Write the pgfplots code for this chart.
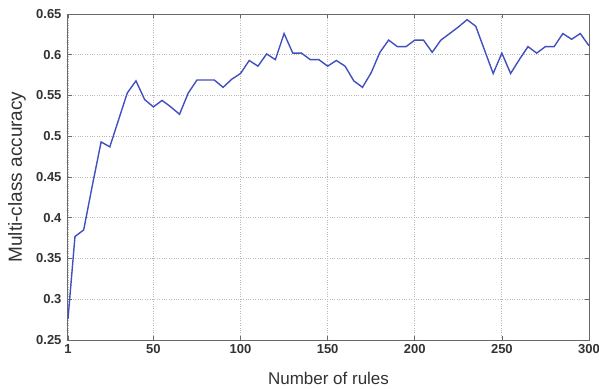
\documentclass[border=0pt]{standalone}
\usepackage{pgfplots}
\pgfplotsset{compat=1.18}
\usepackage{fontspec}
\setmainfont{Liberation Sans}
\definecolor{lineblue}{RGB}{65,80,190}
\definecolor{tickgray}{RGB}{50,50,50}
\definecolor{framegray}{RGB}{105,105,105}
\begin{document}
\begin{tikzpicture}
\useasboundingbox (-68pt,-48pt) rectangle (531pt,340pt);
\begin{axis}[
  at={(0pt,0pt)}, anchor=south west,
  scale only axis,
  width=521pt, height=326pt,
  xmin=1, xmax=300, ymin=0.25, ymax=0.65,
  xtick={1,50,100,150,200,250,300},
  ytick={0.25,0.3,0.35,0.4,0.45,0.5,0.55,0.6,0.65},
  yticklabels={0.25,0.3,0.35,0.4,0.45,0.5,0.55,0.6,0.65},
  xticklabels={1,50,100,150,200,250,300},
  grid=major,
  major grid style={dotted, gray!55, line width=0.8pt},
  axis line style={framegray, line width=1pt},
  tick align=inside,
  tick style={framegray, line width=0.6pt},
  major tick length=4pt,
  ticklabel style={font=\fontsize{13}{15}\selectfont\bfseries, text=tickgray},
  yticklabel style={xshift=-3pt},
  xticklabel style={yshift=-1pt},
  /pgf/number format/assume math mode=true,
  xlabel={Number of rules},
  ylabel={Multi-class accuracy},
  xlabel style={font=\fontsize{17}{20}\selectfont, text=tickgray,
    at={(axis description cs:0.5,0)}, anchor=center, yshift=-38pt},
  ylabel style={font=\fontsize{19}{22}\selectfont, text=tickgray,
    at={(axis description cs:0,0.5)}, anchor=center, yshift=51pt},
]
\addplot[color=lineblue, line width=1.4pt] coordinates {
(1,0.276) (5,0.377) (10,0.385) (15,0.44) (20,0.493) (25,0.487) (30,0.52)
(35,0.553) (40,0.568) (45,0.545) (50,0.536) (55,0.544) (60,0.536) (65,0.527)
(70,0.553) (75,0.569) (80,0.569) (85,0.569) (90,0.560) (95,0.570) (100,0.577)
(105,0.593) (110,0.586) (115,0.601) (120,0.594) (125,0.626) (130,0.602) (135,0.602)
(140,0.594) (145,0.594) (150,0.586) (155,0.593) (160,0.586) (165,0.568) (170,0.560)
(175,0.578) (180,0.603) (185,0.618) (190,0.610) (195,0.610) (200,0.618) (205,0.618)
(210,0.603) (215,0.618) (220,0.626) (225,0.634) (230,0.643) (235,0.635) (240,0.606)
(245,0.577) (250,0.602) (255,0.577) (260,0.594) (265,0.610) (270,0.602) (275,0.610)
(280,0.610) (285,0.626) (290,0.619) (295,0.626) (300,0.611)
};
\end{axis}
\end{tikzpicture}
\end{document}
